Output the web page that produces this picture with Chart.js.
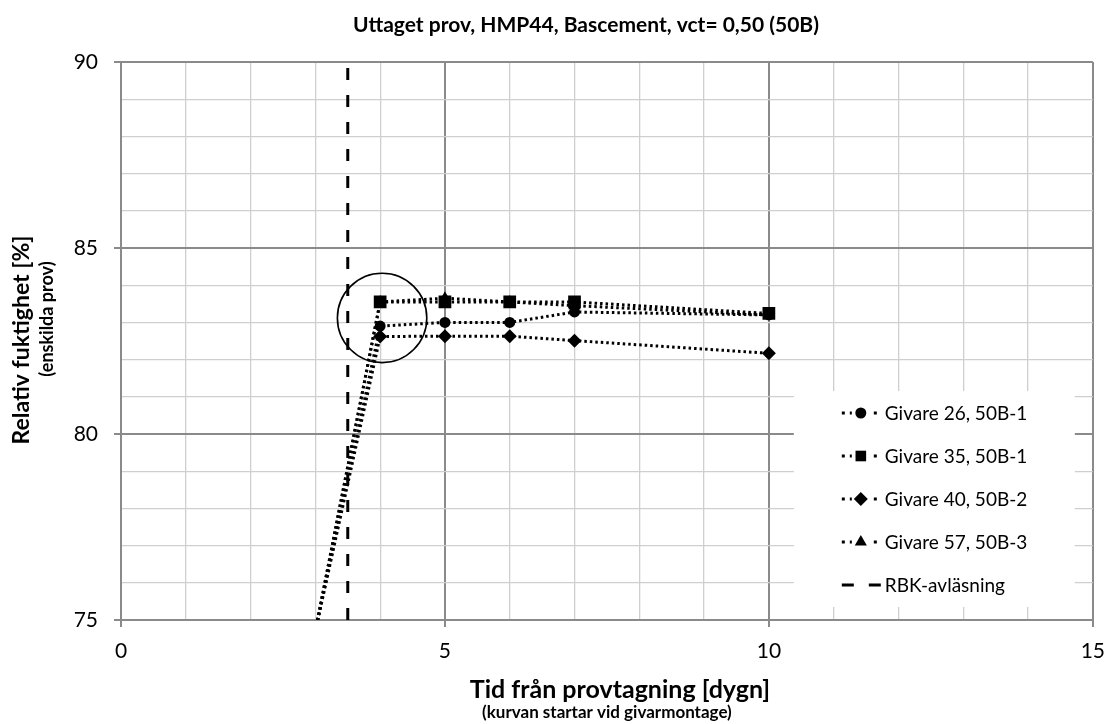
<!DOCTYPE html>
<html>
<head>
<meta charset="utf-8">
<script src="https://cdn.jsdelivr.net/npm/chart.js@4.4.0/dist/chart.umd.min.js"></script>
<style>
  html, body { margin: 0; padding: 0; background: #fff; }
  #wrap { width: 1117px; height: 724px; }
</style>
</head>
<body>
<div id="wrap"><canvas id="myChart" width="1117" height="724"></canvas></div>
<script>
// dagar från provtagning
const days = [3, 4, 5, 6, 7, 10];

// RF-värden per givare (första punkten ligger under axeln, syns ej)
const givare26 = [74.7, 82.9, 83.0, 83.0, 83.28, 83.2];
const givare35 = [74.7, 83.55, 83.55, 83.55, 83.55, 83.24];
const givare40 = [74.7, 82.62, 82.63, 82.63, 82.51, 82.17];
const givare57 = [74.7, 83.55, 83.65, 83.55, 83.45, 83.2];

// RBK-avläsning, lodrät streckad linje
const rbkDay = 3.5;
const rbkRange = [75, 90];

// markerad punkt (ringen)
const ringCenter = { x: 4.03, y: 83.12 };

const seriesLabels = ['Givare 26, 50B-1', 'Givare 35, 50B-1', 'Givare 40, 50B-2', 'Givare 57, 50B-3', 'RBK-avläsning'];

const xTicks = [0, 5, 10, 15];
const yTicks = [75, 80, 85, 90];

const FONT = 'Lato, "Open Sans", sans-serif';

function pts(vals) {
  return days.map((d, i) => ({ x: d, y: vals[i] }));
}

function givareSet(label, vals, style, r) {
  return {
    label: label,
    data: pts(vals),
    borderColor: '#000',
    backgroundColor: '#000',
    borderWidth: 3,
    borderDash: [2.5, 3],
    pointStyle: style,
    pointRadius: r,
    pointHoverRadius: r,
    pointBorderWidth: 0,
    clip: 0,
    showLine: true
  };
}

// ritar titlar, legend och ringen
const extras = {
  id: 'extras',
  afterDatasetsDraw(chart) {
    const { ctx, chartArea, scales } = chart;
    const xs = scales.x, ys = scales.y;

    // ring runt första mätpunkten
    ctx.save();
    const cx = xs.getPixelForValue(ringCenter.x);
    const cy = ys.getPixelForValue(ringCenter.y);
    const rr = xs.getPixelForValue(0.69) - xs.getPixelForValue(0);
    ctx.beginPath();
    ctx.arc(cx, cy, rr, 0, Math.PI * 2);
    ctx.lineWidth = 1.6;
    ctx.strokeStyle = '#000';
    ctx.stroke();
    ctx.restore();

    // legend
    ctx.save();
    const lx = chartArea.right - 299, ly = chartArea.top + 329;
    ctx.fillStyle = '#fff';
    ctx.fillRect(lx, ly, 281, 216);
    ctx.font = '19px ' + FONT;
    ctx.textBaseline = 'middle';
    chart.data.datasets.forEach((ds, i) => {
      const y = ly + 22 + i * 43;
      const x0 = lx + 48, x1 = lx + 88;
      ctx.strokeStyle = '#000';
      ctx.lineWidth = 3;
      ctx.setLineDash(ds.pointRadius > 0 ? [3, 5] : ds.borderDash);
      ctx.beginPath();
      ctx.moveTo(x0, y);
      ctx.lineTo(x1, y);
      ctx.stroke();
      ctx.setLineDash([]);
      if (ds.pointRadius > 0) {
        ctx.fillStyle = '#fff';
        ctx.fillRect(x0 + 10, y - 8, 18, 16);
        Chart.helpers.drawPoint(ctx, { pointStyle: ds.pointStyle, radius: Math.min(ds.pointRadius, 7.5), rotation: 0, borderWidth: 0 }, x0 + 19, y);
        ctx.fillStyle = '#000';
        ctx.fill();
      }
      ctx.fillStyle = '#000';
      ctx.textAlign = 'left';
      ctx.fillText(ds.label, lx + 91, y + 1);
    });
    ctx.restore();
  },
  afterDraw(chart) {
    const { ctx, chartArea } = chart;
    ctx.save();
    ctx.fillStyle = '#000';
    ctx.textAlign = 'center';
    ctx.textBaseline = 'middle';

    ctx.font = 'bold 21px ' + FONT;
    ctx.fillText('Uttaget prov, HMP44, Bascement, vct= 0,50 (50B)', 586, 25);

    const mx = (chartArea.left + chartArea.right) / 2;
    ctx.font = 'bold 25px ' + FONT;
    ctx.fillText('Tid från provtagning [dygn]', 620, 690);
    ctx.font = 'bold 17px ' + FONT;
    ctx.fillText('(kurvan startar vid givarmontage)', mx, 713);

    ctx.translate(22, 340);
    ctx.rotate(-Math.PI / 2);
    ctx.font = 'bold 23px ' + FONT;
    ctx.fillText('Relativ fuktighet [%]', 0, 0);
    ctx.font = 'bold 18px ' + FONT;
    ctx.fillText('(enskilda prov)', 21, 25);
    ctx.restore();
  }
};

const ctx = document.getElementById('myChart');
const myChart = new Chart(ctx, {
  type: 'scatter',
  data: {
    datasets: [
      givareSet(seriesLabels[0], givare26, 'circle', 5.5),
      givareSet(seriesLabels[1], givare35, 'rect', 9),
      givareSet(seriesLabels[2], givare40, 'rectRot', 7),
      givareSet(seriesLabels[3], givare57, 'triangle', 7),
      {
        label: seriesLabels[4],
        data: [{ x: rbkDay, y: rbkRange[0] }, { x: rbkDay, y: rbkRange[1] }],
        borderColor: '#000',
        borderWidth: 3,
        borderDash: [12, 15],
        pointRadius: 0,
        showLine: true
      }
    ]
  },
  options: {
    responsive: false,
    animation: false,
    layout: { padding: { left: 0, right: 21, top: 62, bottom: 0 } },
    plugins: {
      legend: { display: false },
      tooltip: { enabled: false },
      title: { display: false }
    },
    scales: {
      x: {
        type: 'linear',
        min: 0, max: 15,
        ticks: {
          stepSize: 1,
          color: '#000',
          font: { family: FONT, size: 21 },
          padding: 12,
          autoSkip: false,
          maxRotation: 0,
          callback: v => xTicks.includes(v) ? String(v) : ''
        },
        grid: {
          color: c => (c.tick && c.tick.value % 5 === 0) ? '#8a8a8a' : '#cfcfcf',
          lineWidth: c => (c.tick && c.tick.value % 5 === 0) ? 2 : 1.3,
          tickLength: 7,
          tickColor: c => (c.tick && c.tick.value % 5 === 0) ? '#8a8a8a' : 'rgba(0,0,0,0)'
        },
        border: { color: '#8a8a8a', width: 2 },
        afterFit: s => { s.height = 104; }
      },
      y: {
        type: 'linear',
        min: 75, max: 90,
        ticks: {
          stepSize: 1,
          color: '#000',
          font: { family: FONT, size: 21 },
          padding: 16,
          autoSkip: false,
          callback: v => yTicks.includes(v) ? String(v) : ''
        },
        grid: {
          color: c => (c.tick && c.tick.value % 5 === 0) ? '#8a8a8a' : '#cfcfcf',
          lineWidth: c => (c.tick && c.tick.value % 5 === 0) ? 2 : 1.3,
          tickLength: 7,
          tickColor: c => (c.tick && c.tick.value % 5 === 0) ? '#8a8a8a' : 'rgba(0,0,0,0)'
        },
        border: { color: '#8a8a8a', width: 2 },
        afterFit: s => { s.width = 121; }
      }
    }
  },
  plugins: [extras]
});
</script>
</body>
</html>
